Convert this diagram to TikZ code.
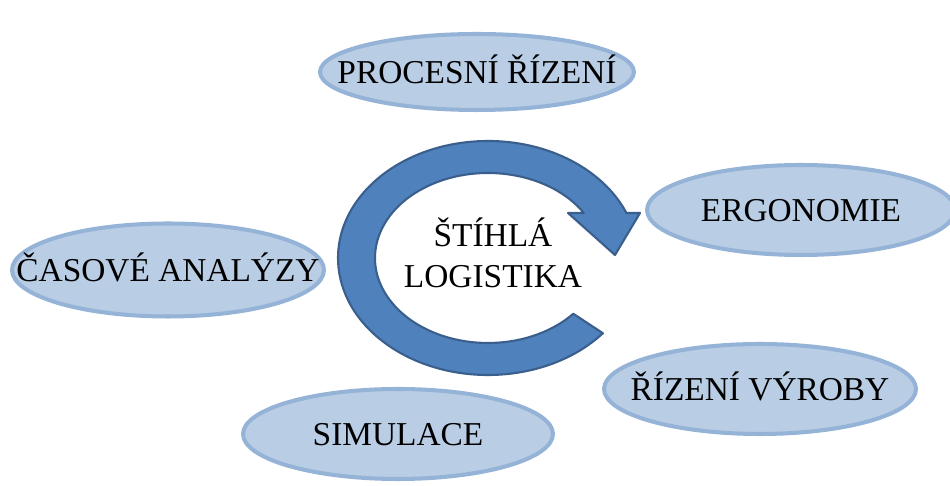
\documentclass[tikz,border=0pt]{standalone}
\usepackage{fontspec}
\setmainfont{Liberation Serif}
\usetikzlibrary{shapes.geometric,calc}
\definecolor{ovalfill}{HTML}{B9CDE5}
\definecolor{ovalline}{HTML}{95B3D7}
\definecolor{loopfill}{HTML}{4F81BD}
\definecolor{loopline}{HTML}{3A5F8C}
\tikzset{
  oval/.style={ellipse, draw=ovalline, fill=ovalfill, line width=2.3pt,
    inner sep=0pt, minimum width=6.24cm, minimum height=1.8cm},
  every label/.style={font=\fontsize{19}{22}\selectfont,
    text height=12.6pt, text depth=0pt},
  loop/.style={fill=loopfill, draw=loopline, line width=1.2pt, line join=round}
}

\begin{document}
\begin{tikzpicture}[x=0.02cm, y=0.02cm]
\useasboundingbox (0,0) rectangle (950,486);
\clip (0,0) rectangle (950,486);
% the topics
\node[oval, minimum width=6.28cm, minimum height=1.52cm, label=center:PROCESNÍ ŘÍZENÍ] (proc) at (477,414) {};
\node[oval, minimum width=6.16cm, label=center:ERGONOMIE] (ergo) at (801,276) {};
\node[oval, minimum height=1.86cm, label=center:ČASOVÉ ANALÝZY] (time) at (168,216) {};
\node[oval, label=center:ŘÍZENÍ VÝROBY] (prod) at (760,97) {};
\node[oval, minimum width=6.2cm, label=center:SIMULACE] (sim) at (398,52) {};
% the loop arrow
\coordinate (hub) at (488,228);
\coordinate (barbout) at (640,273);
\coordinate (tip) at (615,231);
\coordinate (barbin) at (568,273);
\filldraw[loop] ($(hub)+(-40:150 and 117)$)
  arc[start angle=-40, end angle=-337.4, x radius=150, y radius=117]
  -- (barbout) -- (tip) -- (barbin)
  -- ($(hub)+(-328:113 and 85)$)
  arc[start angle=-328, end angle=-41, x radius=113, y radius=85] -- cycle;
\node[align=center, font=\fontsize{19}{23}\selectfont] (lean) at (493,233) {ŠTÍHLÁ\\LOGISTIKA};
\end{tikzpicture}
\end{document}
